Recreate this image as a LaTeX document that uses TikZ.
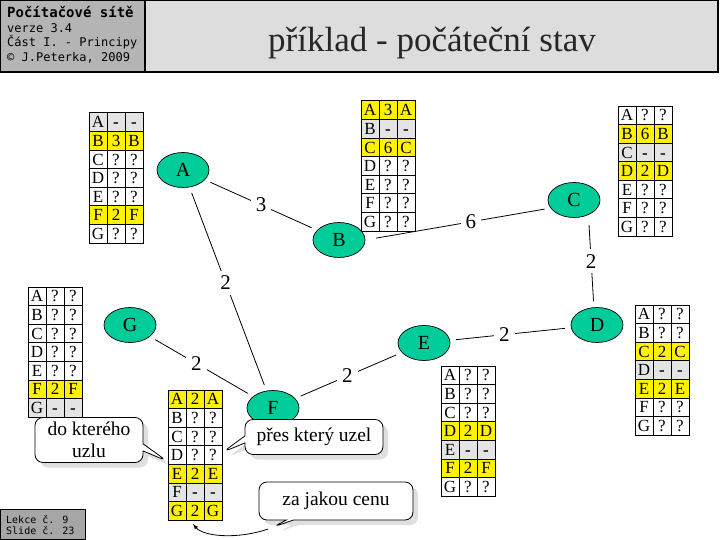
\documentclass[tikz,border=0pt]{standalone}
\usepackage{fontspec}
\setmainfont{Liberation Serif}
\newfontfamily\monopismo{DejaVu Sans Mono}
\usepackage{xcolor}
\usetikzlibrary{shapes,shapes.callouts,arrows,positioning,matrix,shadows}

\definecolor{zelena}{RGB}{0,204,153}
\definecolor{seda}{RGB}{228,228,228}
\definecolor{hlavickaL}{RGB}{180,180,180}
\definecolor{hlavickaP}{RGB}{221,221,221}
\definecolor{paticka}{RGB}{166,166,166}

\begin{document}
\begin{tikzpicture}[x=1pt, y=-1pt]
    % Styly
    \tikzstyle{uzel}=[ellipse, draw, line width=0.7pt, fill=zelena, minimum width=52pt, minimum height=35pt, inner sep=0pt, font=\fontsize{20}{20}\selectfont]
    \tikzstyle{spoj}=[line width=0.8pt, shorten <=6pt, shorten >=6pt]
    \tikzstyle{cena}=[fill=white, inner sep=5pt, font=\fontsize{21}{21}\selectfont]
    \tikzstyle{tabulka}=[matrix of nodes, column sep=-0.8pt, row sep=-0.8pt, nodes={draw, anchor=center, line width=0.8pt, minimum width=18pt, minimum height=18.6pt, text height=13pt, text depth=1.7pt, inner sep=0pt, fill=white, font=\fontsize{17}{17}\selectfont}]
    \tikzstyle{vlastni}=[nodes={fill=seda}]
    \tikzstyle{soused}=[nodes={fill=yellow}]
    \tikzstyle{bublina}=[rectangle callout, draw, line width=0.8pt, fill=white, rounded corners=8pt, align=center, inner sep=2pt, font=\fontsize{19.5}{22}\selectfont, drop shadow={shadow xshift=5pt, shadow yshift=-5pt, fill=black!25}]
    \tikzstyle{mono}=[anchor=base west, inner sep=0pt, font=\monopismo\fontsize{12}{12}\selectfont]

    \useasboundingbox (0,0) rectangle (720,540);

    % Hlavicka
    \draw[line width=1.2pt, fill=hlavickaL] (0.6,0.6) rectangle (145,72);
    \draw[line width=1.2pt, fill=hlavickaP] (145,0.6) rectangle (718,72);
    \node[mono, font=\monopismo\bfseries\fontsize{14}{14}\selectfont] (predmet) at (7,18) {Počítačové sítě};
    \node[mono] (verze) at (7,33) {verze 3.4};
    \node[mono] (cast) at (7,47) {Část I. - Principy};
    \node[mono] (autor) at (7,62) {© J.Peterka, 2009};
    \node[anchor=base, inner sep=0pt, text=black!85, font=\fontsize{35}{35}\selectfont] (nadpis) at (432,52) {příklad - počáteční stav};

    % Paticka
    \draw[line width=1pt, fill=paticka] (0.5,509) rectangle (85,539.5);
    \node[mono, font=\monopismo\fontsize{10}{10}\selectfont] (lekce) at (6,523) {Lekce č. 9};
    \node[mono, font=\monopismo\fontsize{10}{10}\selectfont] (slide) at (6,534) {Slide č. 23};

    % Uzly site
    \node[uzel] (A) at (183,170) {A};
    \node[uzel] (B) at (339,240) {B};
    \node[uzel] (C) at (574,200) {C};
    \node[uzel] (D) at (597,325) {D};
    \node[uzel] (E) at (424,343) {E};
    \node[uzel] (F) at (273,408) {F};
    \node[uzel] (G) at (130,325) {G};

    % Spoje a jejich ceny
    \draw[spoj] (A) -- node[cena, pos=0.5] (cAB) {3} (B);
    \draw[spoj, shorten <=11pt] (B.east) -- node[cena, pos=0.57] (cBC) {6} (C.199);
    \draw[spoj, shorten <=10pt] (C.-46) -- node[cena, pos=0.5] (cCD) {2} (D.100);
    \draw[spoj] (A) -- node[cena, pos=0.47] (cAF) {2} (F);
    \draw[spoj] (G) -- node[cena, pos=0.45] (cGF) {2} (F);
    \draw[spoj] (F) -- node[cena, pos=0.49] (cFE) {2} (E);
    \draw[spoj] (E) -- node[cena, pos=0.45] (cED) {2} (D);

    % Smerovaci tabulky
    \matrix (tabA) [tabulka, row 1/.style=vlastni, row 2/.style=soused, row 6/.style=soused] at (116,178) {
        A & \textbf{-} & \textbf{-} \\
        B & 3 & B \\
        C & ? & ? \\
        D & ? & ? \\
        E & ? & ? \\
        F & 2 & F \\
        G & ? & ? \\
    };
    \matrix (tabB) [tabulka, row 1/.style=soused, row 2/.style=vlastni, row 3/.style=soused] at (388,166) {
        A & 3 & A \\
        B & \textbf{-} & \textbf{-} \\
        C & 6 & C \\
        D & ? & ? \\
        E & ? & ? \\
        F & ? & ? \\
        G & ? & ? \\
    };
    \matrix (tabC) [tabulka, row 2/.style=soused, row 3/.style=vlastni, row 4/.style=soused] at (645,171) {
        A & ? & ? \\
        B & 6 & B \\
        C & \textbf{-} & \textbf{-} \\
        D & 2 & D \\
        E & ? & ? \\
        F & ? & ? \\
        G & ? & ? \\
    };
    \matrix (tabG) [tabulka, row 6/.style=soused, row 7/.style=vlastni] at (55,352) {
        A & ? & ? \\
        B & ? & ? \\
        C & ? & ? \\
        D & ? & ? \\
        E & ? & ? \\
        F & 2 & F \\
        G & \textbf{-} & \textbf{-} \\
    };
    \matrix (tabD) [tabulka, row 3/.style=soused, row 4/.style=vlastni, row 5/.style=soused] at (662,370) {
        A & ? & ? \\
        B & ? & ? \\
        C & 2 & C \\
        D & \textbf{-} & \textbf{-} \\
        E & 2 & E \\
        F & ? & ? \\
        G & ? & ? \\
    };
    \matrix (tabE) [tabulka, row 4/.style=soused, row 5/.style=vlastni, row 6/.style=soused] at (468,431) {
        A & ? & ? \\
        B & ? & ? \\
        C & ? & ? \\
        D & 2 & D \\
        E & \textbf{-} & \textbf{-} \\
        F & 2 & F \\
        G & ? & ? \\
    };
    \matrix (tabF) [tabulka, row 1/.style=soused, row 5/.style=soused, row 6/.style=vlastni, row 7/.style=soused] at (195,455) {
        A & 2 & A \\
        B & ? & ? \\
        C & ? & ? \\
        D & ? & ? \\
        E & 2 & E \\
        F & \textbf{-} & \textbf{-} \\
        G & 2 & G \\
    };

    % Bubliny s popisem
    \node[bublina, minimum width=108pt, minimum height=45pt, callout absolute pointer={(167,461)}] (kam) at (89,440) {do kterého\\uzlu};
    \node[bublina, minimum width=138pt, minimum height=35pt, callout absolute pointer={(223,452)}] (pres) at (314,437) {přes který uzel};
    \node[bublina, minimum width=154pt, minimum height=38pt, callout absolute pointer={(273,527)}] (kolik) at (336,501) {za jakou cenu};
    \draw[-latex, line width=0.8pt] (kolik.pointer) .. controls (235,540) and (203,536) .. ([xshift=-2pt]tabF.south);
\end{tikzpicture}
\end{document}
